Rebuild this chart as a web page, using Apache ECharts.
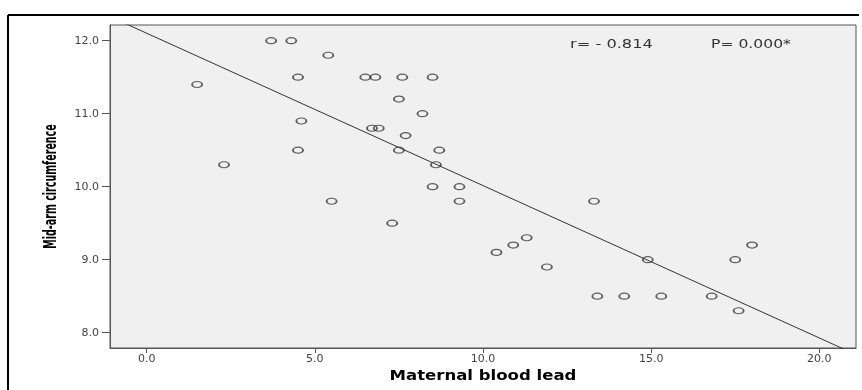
<!DOCTYPE html>
<html>
<head>
<meta charset="utf-8">
<script src="https://cdn.jsdelivr.net/npm/echarts@6/dist/echarts.min.js"></script>
<style>
html,body{margin:0;padding:0;background:#fff;}
#c{width:862px;height:390px;}
</style>
</head>
<body>
<div id="c"></div>
<script>
// Data
const bloodLead = [1.5, 2.3, 3.7, 4.3, 5.4, 4.5, 6.5, 6.8, 7.6, 8.5, 7.5, 8.2, 4.6, 6.7, 6.9, 7.7, 4.5, 7.5, 8.7, 8.6, 8.5, 9.3, 5.5, 9.3, 7.3, 11.3, 10.9, 10.4, 11.9, 13.3, 18.0, 14.9, 17.5, 13.4, 14.2, 15.3, 16.8, 17.6];
const midArm    = [11.4, 10.3, 12.0, 12.0, 11.8, 11.5, 11.5, 11.5, 11.5, 11.5, 11.2, 11.0, 10.9, 10.8, 10.8, 10.7, 10.5, 10.5, 10.5, 10.3, 10.0, 10.0, 9.8, 9.8, 9.5, 9.3, 9.2, 9.1, 8.9, 9.8, 9.2, 9.0, 9.0, 8.5, 8.5, 8.5, 8.5, 8.3];
const fitLineX = [-1.09, 21.09];
const fitLineY = [12.33, 7.70];
const xTicks = [0, 5, 10, 15, 20];
const yTicks = [8, 9, 10, 11, 12];
const xTitle = 'Maternal blood lead';
const yTitle = 'Mid-arm circumference';
const rText = 'r= - 0.814';
const pText = 'P= 0.000*';

const points = bloodLead.map((x, i) => [x, midArm[i]]);
const fitLine = fitLineX.map((x, i) => [x, fitLineY[i]]);

const chart = echarts.init(document.getElementById('c'), null, {renderer: 'canvas'});
const labelStyle = {color: '#444', fontFamily: 'DejaVu Sans, sans-serif', fontSize: 11};
chart.setOption({
  animation: false,
  backgroundColor: '#fff',
  grid: {left: 110, top: 25, right: 6, bottom: 42, show: true, backgroundColor: '#f0f0f0', borderColor: '#555', borderWidth: 1},
  xAxis: {
    type: 'value', min: -1.09, max: 21.09,
    axisLine: {show: true, onZero: false, lineStyle: {color: '#555', width: 1}},
    axisTick: {show: true, length: 5, customValues: xTicks, lineStyle: {color: '#555'}},
    axisLabel: Object.assign({margin: 6, customValues: xTicks, formatter: v => v.toFixed(1)}, labelStyle),
    splitLine: {show: false}
  },
  yAxis: {
    type: 'value', min: 7.79, max: 12.215,
    axisLine: {show: true, onZero: false, lineStyle: {color: '#555', width: 1}},
    axisTick: {show: true, length: 8, customValues: yTicks, lineStyle: {color: '#555'}},
    axisLabel: Object.assign({margin: 11, customValues: yTicks, formatter: v => v.toFixed(1)}, labelStyle),
    splitLine: {show: false}
  },
  series: [
    {
      type: 'line', data: fitLine, showSymbol: false, symbol: 'none', clip: true,
      lineStyle: {color: '#333', width: 1}, silent: true, z: 2
    },
    {
      type: 'scatter', data: points, symbol: 'circle', symbolSize: [10, 6],
      itemStyle: {color: 'rgba(240,240,240,0)', borderColor: '#3a3a3a', borderWidth: 1.5}, z: 3
    }
  ],
  graphic: [
    {type: 'line', shape: {x1: 8, y1: 15, x2: 859, y2: 15}, style: {stroke: '#000', lineWidth: 2}, z: 10},
    {type: 'line', shape: {x1: 8, y1: 15, x2: 8, y2: 390}, style: {stroke: '#000', lineWidth: 2}, z: 10},
    {type: 'text', x: 570, y: 44.5, scaleX: 1.35, scaleY: 1,
      style: {text: rText, font: '12px DejaVu Sans, sans-serif', fill: '#333', align: 'left', verticalAlign: 'middle'}, z: 10},
    {type: 'text', x: 711, y: 44.5, scaleX: 1.3, scaleY: 1,
      style: {text: pText, font: '12px DejaVu Sans, sans-serif', fill: '#333', align: 'left', verticalAlign: 'middle'}, z: 10},
    {type: 'text', x: 483, y: 376, scaleX: 1.18, scaleY: 1,
      style: {text: xTitle, font: 'bold 14px DejaVu Sans, sans-serif', fill: '#000', align: 'center', verticalAlign: 'middle'}, z: 10},
    {type: 'text', x: 52, y: 186.5, rotation: Math.PI / 2, scaleX: 0.56, scaleY: 1,
      style: {text: yTitle, font: 'bold 17px DejaVu Sans, sans-serif', fill: '#000', align: 'center', verticalAlign: 'middle'}, z: 10}
  ]
});
</script>
</body>
</html>
